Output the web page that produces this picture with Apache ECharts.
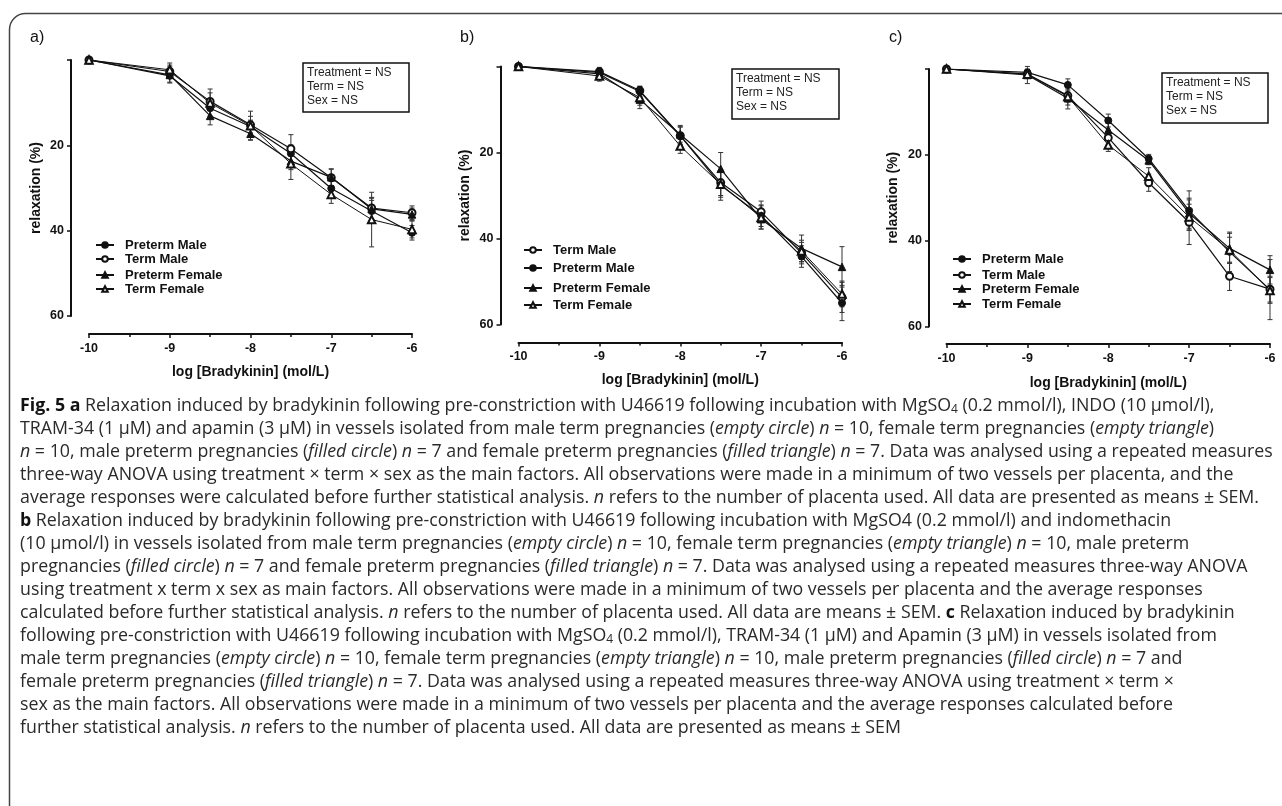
<!DOCTYPE html>
<html>
<head>
<meta charset="utf-8">
<script src="https://cdn.jsdelivr.net/npm/echarts@6/dist/echarts.min.js"></script>
<style>
html,body{margin:0;padding:0;background:#fff;}
#chart{width:1282px;height:806px;}
</style>
</head>
<body>
<div id="chart"></div>
<script>
// ---------- data ----------
const xValues = [-10, -9, -8.5, -8, -7.5, -7, -6.5, -6];
const xTickValues = [-10, -9, -8, -7, -6];
const yTickValues = [0, 20, 40, 60];

// panel a
const aPretermMale      = [0, 3.7, 11.3, 15.6, 21.9, 30.1, 35.4, 40.5];
const aPretermMaleSem   = [0, 1.5, 1.8, 1.5, 2.0, 2.0, 2.5, 1.7];
const aTermMale         = [0, 2.7, 9.7, 15.2, 20.8, 27.6, 34.7, 35.8];
const aTermMaleSem      = [0, 1.5, 2.0, 2.0, 3.3, 2.0, 2.5, 1.6];
const aPretermFemale    = [0, 3.5, 13.1, 17.3, 23.7, 27.5, 34.9, 36.2];
const aPretermFemaleSem = [0, 1.9, 2.1, 1.4, 2.0, 2.0, 2.5, 1.5];
const aTermFemale       = [0, 2.3, 10.1, 15.4, 24.3, 31.5, 37.4, 39.7];
const aTermFemaleSem    = [0, 1.6, 3.3, 3.4, 3.7, 2.1, 6.4, 2.0];

// panel b
const bTermMale         = [0, 1.2, 5.6, 16.1, 27.0, 33.8, 43.4, 53.7];
const bTermMaleSem      = [0, 1.0, 1.0, 2.0, 3.0, 2.5, 2.5, 3.5];
const bPretermMale      = [0, 1.4, 5.8, 16.1, 27.6, 34.7, 44.2, 55.0];
const bPretermMaleSem   = [0, 1.0, 1.2, 2.4, 3.5, 2.5, 2.5, 4.1];
const bPretermFemale    = [0, 1.7, 7.7, 15.8, 23.8, 35.5, 42.3, 46.6];
const bPretermFemaleSem = [0, 1.2, 2.1, 1.8, 3.8, 2.3, 3.1, 4.7];
const bTermFemale       = [0, 2.2, 7.2, 18.5, 27.4, 35.1, 42.9, 52.9];
const bTermFemaleSem    = [0, 1.2, 1.8, 1.7, 3.0, 2.7, 2.5, 3.0];

// panel c
const cPretermMale      = [0, 0.8, 3.7, 12.0, 20.9, 33.0, 42.6, 51.4];
const cPretermMaleSem   = [0, 0.8, 1.4, 1.5, 1.0, 4.6, 4.6, 7.0];
const cTermMale         = [0, 1.2, 6.2, 16.0, 26.5, 35.7, 48.3, 51.3];
const cTermMaleSem      = [0, 1.0, 1.5, 1.8, 2.0, 5.2, 3.3, 3.0];
const cPretermFemale    = [0, 1.4, 6.8, 14.2, 21.3, 33.6, 41.8, 46.8];
const cPretermFemaleSem = [0, 2.0, 2.5, 1.5, 1.0, 3.5, 3.5, 3.3];
const cTermFemale       = [0, 1.2, 6.4, 17.7, 25.0, 34.5, 42.2, 51.6];
const cTermFemaleSem    = [0, 1.0, 2.0, 1.5, 2.0, 3.0, 3.0, 3.0];

const panelLabels = ['a)', 'b)', 'c)'];
const statLines = ['Treatment = NS', 'Term = NS', 'Sex = NS'];
const legendOrderA = ['Preterm Male', 'Term Male', 'Preterm Female', 'Term Female'];
const legendOrderB = ['Term Male', 'Preterm Male', 'Preterm Female', 'Term Female'];
const legendOrderC = ['Preterm Male', 'Term Male', 'Preterm Female', 'Term Female'];
const xAxisTitle = 'log [Bradykinin] (mol/L)';
const yAxisTitle = 'relaxation (%)';

const captionLines = [
 '{b|Fig. 5 a} Relaxation induced by bradykinin following pre-constriction with U46619 following incubation with MgSO{s|4} (0.2 mmol/l), INDO (10 µmol/l),',
 'TRAM-34 (1 µM) and apamin (3 µM) in vessels isolated from male term pregnancies ({i|empty circle}) {i|n} = 10, female term pregnancies ({i|empty triangle})',
 '{i|n} = 10, male preterm pregnancies ({i|filled circle}) {i|n} = 7 and female preterm pregnancies ({i|filled triangle}) {i|n} = 7. Data was analysed using a repeated measures',
 'three-way ANOVA using treatment × term × sex as the main factors. All observations were made in a minimum of two vessels per placenta, and the',
 'average responses were calculated before further statistical analysis. {i|n} refers to the number of placenta used. All data are presented as means ± SEM.',
 '{b|b} Relaxation induced by bradykinin following pre-constriction with U46619 following incubation with MgSO4 (0.2 mmol/l) and indomethacin',
 '(10 µmol/l) in vessels isolated from male term pregnancies ({i|empty circle}) {i|n} = 10, female term pregnancies ({i|empty triangle}) {i|n} = 10, male preterm',
 'pregnancies ({i|filled circle}) {i|n} = 7 and female preterm pregnancies ({i|filled triangle}) {i|n} = 7. Data was analysed using a repeated measures three-way ANOVA',
 'using treatment x term x sex as main factors. All observations were made in a minimum of two vessels per placenta and the average responses',
 'calculated before further statistical analysis. {i|n} refers to the number of placenta used. All data are means ± SEM. {b|c} Relaxation induced by bradykinin',
 'following pre-constriction with U46619 following incubation with MgSO{s|4} (0.2 mmol/l), TRAM-34 (1 µM) and Apamin (3 µM) in vessels isolated from',
 'male term pregnancies ({i|empty circle}) {i|n} = 10, female term pregnancies ({i|empty triangle}) {i|n} = 10, male preterm pregnancies ({i|filled circle}) {i|n} = 7 and',
 'female preterm pregnancies ({i|filled triangle}) {i|n} = 7. Data was analysed using a repeated measures three-way ANOVA using treatment × term ×',
 'sex as the main factors. All observations were made in a minimum of two vessels per placenta and the average responses calculated before',
 'further statistical analysis. {i|n} refers to the number of placenta used. All data are presented as means ± SEM'
];

// ---------- build ----------
const panels = [
  { series: {'Preterm Male':[aPretermMale,aPretermMaleSem],'Term Male':[aTermMale,aTermMaleSem],'Preterm Female':[aPretermFemale,aPretermFemaleSem],'Term Female':[aTermFemale,aTermFemaleSem]}, legend: legendOrderA },
  { series: {'Term Male':[bTermMale,bTermMaleSem],'Preterm Male':[bPretermMale,bPretermMaleSem],'Preterm Female':[bPretermFemale,bPretermFemaleSem],'Term Female':[bTermFemale,bTermFemaleSem]}, legend: legendOrderB },
  { series: {'Preterm Male':[cPretermMale,cPretermMaleSem],'Term Male':[cTermMale,cTermMaleSem],'Preterm Female':[cPretermFemale,cPretermFemaleSem],'Term Female':[cTermFemale,cTermFemaleSem]}, legend: legendOrderC }
];

const layout = [
  { grid:{left:89, top:60, width:323, height:256}, off:18, yGap:28, xGap:31, label:[30,30], box:[303,63,106,49], legendX:95, legendY:[244,258,274,288] },
  { grid:{left:518.5, top:66.5, width:323.5, height:258}, off:18, yGap:28, xGap:31, label:[460,30], box:[732,69,107,50], legendX:523, legendY:[249,267,287,304] },
  { grid:{left:946.5, top:69, width:323.5, height:257.5}, off:17.5, yGap:29, xGap:32, label:[889,30], box:[1162,73,106,50], legendX:952, legendY:[258,274,288,303] }
];

const symbolFor = {
  'Preterm Male':   {symbol:'circle', size:7},
  'Term Male':      {symbol:'emptyCircle', size:7},
  'Preterm Female': {symbol:'triangle', size:7.5},
  'Term Female':    {symbol:'emptyTriangle', size:7.5}
};

const INK = '#111';
const FONT = '"Liberation Sans", Arial, sans-serif';

const grids = [], xAxes = [], yAxes = [], series = [], legends = [], graphics = [];

function errRender(params, api) {
  const x = api.value(0), y = api.value(1), e = api.value(2);
  if (!e) return {type:'group', children:[]};
  const t = api.coord([x, y - e]);
  const b = api.coord([x, y + e]);
  const w = 2.5;
  const st = {stroke:'#333', lineWidth:1};
  return {type:'group', children:[
    {type:'line', shape:{x1:t[0], y1:t[1], x2:b[0], y2:b[1]}, style:st},
    {type:'line', shape:{x1:t[0]-w, y1:t[1], x2:t[0]+w, y2:t[1]}, style:st},
    {type:'line', shape:{x1:b[0]-w, y1:b[1], x2:b[0]+w, y2:b[1]}, style:st}
  ]};
}

panels.forEach((p, k) => {
  const L = layout[k];
  grids.push(L.grid);
  xAxes.push({
    type:'value', gridIndex:k, min:-10, max:-6, interval:1, offset:L.off,
    name:xAxisTitle, nameLocation:'middle', nameGap:L.xGap,
    nameTextStyle:{fontFamily:FONT, fontWeight:'bold', fontSize:14, color:INK},
    axisLine:{show:true, onZero:false, lineStyle:{color:INK, width:2}},
    axisTick:{show:true, length:4, lineStyle:{color:INK, width:1.5}},
    minorTick:{show:true, splitNumber:2, length:3, lineStyle:{color:INK, width:1.5}},
    splitLine:{show:false}, minorSplitLine:{show:false},
    axisLabel:{fontFamily:FONT, fontWeight:'bold', fontSize:12.5, color:INK, margin:8,
      formatter: v => xTickValues.indexOf(v) >= 0 ? String(v) : ''}
  });
  yAxes.push({
    type:'value', gridIndex:k, min:0, max:60, interval:20, inverse:true, offset:L.off,
    name:yAxisTitle, nameLocation:'middle', nameGap:L.yGap, nameRotate:90,
    nameTextStyle:{fontFamily:FONT, fontWeight:'bold', fontSize:14, color:INK},
    axisLine:{show:true, onZero:false, lineStyle:{color:INK, width:2}},
    axisTick:{show:true, length:4, lineStyle:{color:INK, width:1.5}},
    splitLine:{show:false},
    axisLabel:{fontFamily:FONT, fontWeight:'bold', fontSize:12.5, color:INK, margin:7,
      formatter: v => (v === 0 || yTickValues.indexOf(v) < 0) ? '' : String(v)}
  });
  Object.keys(p.series).forEach(name => {
    const [vals, sem] = p.series[name];
    const sym = symbolFor[name];
    series.push({
      type:'custom', name: name + ' SEM ' + k, xAxisIndex:k, yAxisIndex:k,
      renderItem: errRender, encode:{x:0, y:1},
      data: xValues.map((x, i) => [x, vals[i], sem[i]]), z:1, silent:true
    });
    series.push({
      type:'line', name, xAxisIndex:k, yAxisIndex:k,
      data: xValues.map((x, i) => [x, vals[i]]),
      symbol: sym.symbol, symbolSize: sym.size, showAllSymbol:true,
      lineStyle:{color:INK, width: name === 'Term Female' ? 1 : 1.2},
      itemStyle:{color:INK, borderColor:INK, borderWidth:1},
      z:3, silent:true
    });
  });
  p.legend.forEach((name, j) => {
    legends.push({
      data:[name], left:L.legendX, top:L.legendY[j] - 5.5, orient:'horizontal', padding:0,
      itemWidth:18, itemHeight:7, selectedMode:false,
      textStyle:{fontFamily:FONT, fontWeight:'bold', fontSize:13, color:INK, padding:[0,0,0,6]}
    });
  });
  graphics.push({type:'text', left:L.label[0], top:L.label[1],
    style:{text:panelLabels[k], font:'16px ' + FONT, fill:INK}});
  graphics.push({type:'rect', shape:{x:L.box[0], y:L.box[1], width:L.box[2], height:L.box[3]},
    style:{fill:'#fff', stroke:INK, lineWidth:1.5}});
  graphics.push({type:'text', x:L.box[0] + 4, y:L.box[1] + 3,
    style:{text:statLines.join('\n'), font:'12px ' + FONT, lineHeight:14, fill:'#222'}});
});

// outer rounded border
graphics.unshift({type:'rect', shape:{x:9.5, y:13.5, width:1320, height:850, r:16},
  style:{fill:'none', stroke:'#444', lineWidth:1.5}, z:-10});

const CAP_FONT = '"Open Sans", "Noto Sans", sans-serif';
const CAP_SIZE = 17.8;
const capColor = '#2a2a2a';
captionLines.forEach((line, i) => {
  graphics.push({type:'text', x:20, y:406 + i * 23,
    style:{text:line, fontFamily:CAP_FONT, fontSize:CAP_SIZE, fill:capColor, verticalAlign:'middle',
      rich:{
        b:{fontFamily:CAP_FONT, fontSize:CAP_SIZE, fontWeight:'bold', fill:'#111'},
        i:{fontFamily:CAP_FONT, fontSize:CAP_SIZE, fontStyle:'italic', fill:capColor},
        s:{fontFamily:CAP_FONT, fontSize:12, fill:capColor, padding:[8,0,0,0]}
      }}});
});

const chart = echarts.init(document.getElementById('chart'), null, {renderer:'canvas'});
chart.setOption({
  animation:false,
  backgroundColor:'#fff',
  grid:grids, xAxis:xAxes, yAxis:yAxes, series, legend:legends, graphic:graphics
});
</script>
</body>
</html>
